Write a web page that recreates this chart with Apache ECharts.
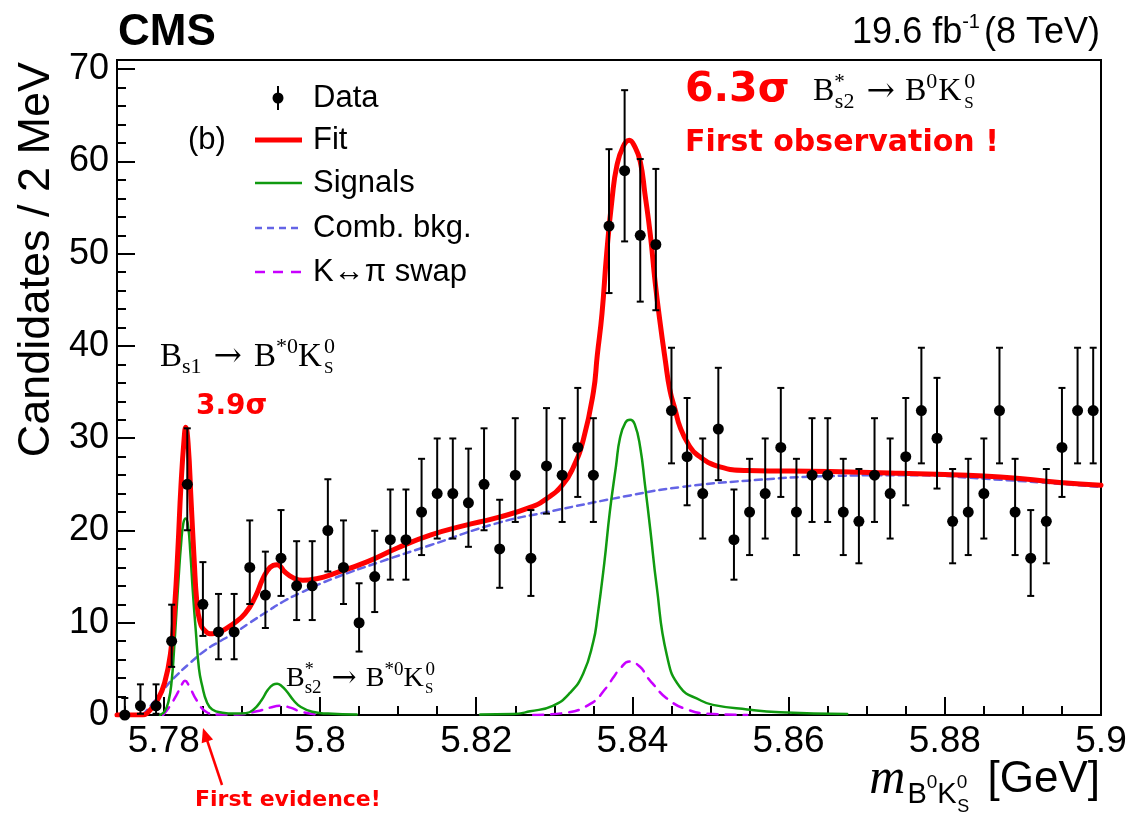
<!DOCTYPE html>
<html><head><meta charset="utf-8">
<script src="https://cdn.jsdelivr.net/npm/echarts@6/dist/echarts.min.js"></script>
<style>html,body{margin:0;padding:0;background:#fff}#c{width:1136px;height:828px}</style>
</head><body><div id="c"></div>
<script>
// ---------- data ----------
const binCenters = [5.775,5.777,5.779,5.781,5.783,5.785,5.787,5.789,5.791,5.793,5.795,5.797,5.799,5.801,5.803,5.805,5.807,5.809,5.811,5.813,5.815,5.817,5.819,5.821,5.823,5.825,5.827,5.829,5.831,5.833,5.835,5.837,5.839,5.841,5.843,5.845,5.847,5.849,5.851,5.853,5.855,5.857,5.859,5.861,5.863,5.865,5.867,5.869,5.871,5.873,5.875,5.877,5.879,5.881,5.883,5.885,5.887,5.889,5.891,5.893,5.895,5.897,5.899];
const counts = [0,1,1,8,25,12,9,9,16,13,17,14,14,20,16,10,15,19,19,22,24,24,23,25,18,26,17,27,26,29,26,53,59,52,51,33,28,24,31,19,22,24,29,22,26,26,22,21,26,24,28,33,30,21,22,24,33,22,17,21,29,33,33];

const fitCurve = [[5.7740,0],[5.7773,0],[5.7782,0.5],[5.7791,1.5],[5.7801,3.5],[5.7809,7],[5.7814,12],[5.7818,18],[5.7822,25],[5.7826,30],[5.7828,31.2],[5.7831,29.5],[5.7835,23],[5.7839,16.5],[5.7842,12.5],[5.7846,10.2],[5.7853,9.1],[5.7862,8.8],[5.7872,9],[5.7889,9.9],[5.7904,11],[5.7917,12.8],[5.7927,14.8],[5.7936,16],[5.7945,16.3],[5.7955,15.5],[5.7965,14.9],[5.7978,14.6],[5.7997,14.8],[5.8017,15.3],[5.8060,16.6],[5.8099,18.1],[5.8141,19.5],[5.8183,20.5],[5.8227,21.4],[5.8269,22.5],[5.8291,23.5],[5.8311,25],[5.8324,26.8],[5.8337,29.8],[5.8350,35],[5.8355,39],[5.8361,43.5],[5.8367,50],[5.8374,56],[5.8380,59.5],[5.8388,61.6],[5.8396,62.3],[5.8403,61.6],[5.8410,60],[5.8416,56.5],[5.8423,52],[5.8429,47],[5.8435,42.8],[5.8442,38.5],[5.8448,35.2],[5.8455,33],[5.8461,31.2],[5.8472,29.3],[5.8483,28.2],[5.8512,26.9],[5.8547,26.5],[5.8653,26.4],[5.8743,26.2],[5.8871,25.8],[5.8947,25.2],[5.9,24.9]];
const bkgCurve = [[5.7773,0],[5.7782,0.9],[5.7791,1.8],[5.7801,2.9],[5.7814,4.1],[5.7833,5.6],[5.7853,7.0],[5.7872,8.0],[5.7889,8.8],[5.7910,10.0],[5.7932,11.2],[5.7953,12.3],[5.7974,13.2],[5.8017,14.8],[5.8077,16.6],[5.8141,18.4],[5.8227,20.8],[5.8291,22],[5.8397,23.8],[5.8461,24.7],[5.8547,25.4],[5.8653,25.9],[5.8743,26],[5.8871,25.5],[5.9,24.7]];
const signalCurveA = [[5.7795,0],[5.7801,0.4],[5.7806,1.5],[5.7810,3.7],[5.7813,7],[5.7816,11],[5.7819,15],[5.7822,18.5],[5.7825,20.8],[5.7828,21.3],[5.7831,20.5],[5.7834,17.5],[5.7837,13.5],[5.7841,9],[5.7845,5],[5.7849,3.2],[5.7855,1.4],[5.7862,0.6],[5.7875,0.25],[5.7890,0.15],[5.7905,0.2],[5.7915,0.6],[5.7925,1.6],[5.7933,2.7],[5.7940,3.3],[5.7945,3.4],[5.7950,3.2],[5.7958,2.5],[5.7966,1.6],[5.7975,0.9],[5.7990,0.35],[5.8010,0.15],[5.8047,0.05]];
const signalCurveB = [[5.8205,0.05],[5.8247,0.1],[5.8269,0.4],[5.8298,1.0],[5.8320,2.4],[5.8337,4.5],[5.8350,8],[5.8355,10.5],[5.8364,16.5],[5.8371,22],[5.8379,27],[5.8384,30],[5.8391,31.7],[5.8397,32],[5.8403,31.5],[5.8410,29],[5.8416,25],[5.8423,20],[5.8431,14],[5.8444,6.5],[5.8461,3],[5.8487,1.6],[5.8503,1.1],[5.8547,0.6],[5.8589,0.3],[5.8675,0.1]];
const swapCurveA = [[5.7799,0],[5.7808,1],[5.7817,2.3],[5.7823,3.3],[5.7827,3.7],[5.7832,3.2],[5.7842,1.6],[5.7855,0.3],[5.7868,0.05],[5.7894,0.05],[5.7919,0.4],[5.7936,0.8],[5.7949,1],[5.7962,0.8],[5.7974,0.4],[5.7996,0.05]];
const swapCurveB = [[5.8273,0],[5.8311,0.2],[5.8346,1.2],[5.8367,3.0],[5.8375,4],[5.8384,5],[5.8396,5.8],[5.8410,5.2],[5.8419,4.1],[5.8426,3.4],[5.8444,1.8],[5.8470,0.6],[5.8503,0.1],[5.8547,0]];

const xMajorTicks = [5.78,5.80,5.82,5.84,5.86,5.88,5.90];
const xMinorTicks = [5.775,5.785,5.79,5.795,5.805,5.81,5.815,5.825,5.83,5.835,5.845,5.85,5.855,5.865,5.87,5.875,5.885,5.89,5.895];
const yMajorTicks = [0,10,20,30,40,50,60,70];
const yMinorTicks = [2,4,6,8,12,14,16,18,22,24,26,28,32,34,36,38,42,44,46,48,52,54,56,58,62,64,66,68];

// Poisson (Garwood, approx.) error bars derived from the counts
const dataPoints = binCenters.map((x, i) => {
  const n = counts[i];
  const lo = n === 0 ? 0 : n - Math.sqrt(n - 0.25);
  const hi = n === 0 ? 1.84 : n + 1 + Math.sqrt(n + 0.75);
  return [x, n, lo, hi];
});

// ---------- helpers ----------
const SANS = '"Liberation Sans"', SERIF = '"Liberation Serif"', BOLD = '"DejaVu Sans"', SYM = '"DejaVu Serif"';
const mctx = document.createElement('canvas').getContext('2d');
function tw(t, font) { mctx.font = font; return mctx.measureText(t).width; }
function formula(x0, yc, parts, color, align) {
  let cx = 0; const items = [];
  for (const p of parts) {
    const font = (p.it ? 'italic ' : '') + (p.b ? 'bold ' : '') + p.s + 'px ' + p.f;
    cx += (p.dx || 0);
    items.push({ x: cx, y: p.dy || 0, t: p.t, font });
    cx += tw(p.t, font);
  }
  const start = align === 'right' ? x0 - cx : x0;
  return items.map(it => ({
    type: 'text', x: start + it.x, y: yc + it.y, silent: true, z: 100,
    style: { text: it.t, font: it.font, fill: color || '#000', textAlign: 'left', align: 'left', textVerticalAlign: 'middle', verticalAlign: 'middle' }
  }));
}

const graphics = [];
// CMS + lumi
graphics.push(...formula(118, 33, [{ t: 'CMS', s: 44, f: SANS, b: true }], '#000'));
graphics.push(...formula(1100, 33, [{ t: '19.6 fb', s: 36, f: SANS }, { t: '-1', s: 20, f: SANS, dy: -11 }, { t: '(8 TeV)', s: 36, f: SANS, dx: 4 }], '#000', 'right'));
// axis titles
const yTitle = 'Candidates / 2 MeV', yTitleFont = '45px ' + SANS;
const yW = tw(yTitle, yTitleFont);
graphics.push({ type: 'text', x: 37, y: 62 + yW / 2, rotation: Math.PI / 2, silent: true,
  style: { text: yTitle, font: yTitleFont, fill: '#000', textAlign: 'center', align: 'center', textVerticalAlign: 'middle', verticalAlign: 'middle' } });
graphics.push(...formula(1100, 780, [
  { t: 'm', s: 50, f: SERIF, it: true },
  { t: 'B', s: 29, f: SANS, dy: 15, dx: 2 },
  { t: '0', s: 19, f: SANS, dy: 3 },
  { t: 'K', s: 29, f: SANS, dy: 15 },
  { t: '0', s: 19, f: SANS, dy: 3 },
  { t: 'S', s: 18, f: SANS, dy: 27, dx: -10 },
  { t: ' [GeV]', s: 44, f: SANS, dx: 6 }
], '#000', 'right'));
// legend
const legX1 = 255, legX2 = 302, legTx = 313;
const legRows = [98, 140, 183, 228, 272];
const legTexts = ['Data', 'Fit', 'Signals', 'Comb. bkg.', 'K\u2194\u03c0 swap'];
legTexts.forEach((t, i) => graphics.push(...formula(legTx, legRows[i], [{ t, s: 31, f: SANS }], '#000')));
graphics.push({ type: 'line', shape: { x1: 278, y1: legRows[0] - 12, x2: 278, y2: legRows[0] + 12 }, style: { stroke: '#000', lineWidth: 2 } });
graphics.push({ type: 'circle', shape: { cx: 278, cy: legRows[0], r: 5.5 }, style: { fill: '#000' } });
graphics.push({ type: 'line', shape: { x1: legX1, y1: legRows[1], x2: legX2, y2: legRows[1] }, style: { stroke: '#ff0000', lineWidth: 5 } });
graphics.push({ type: 'line', shape: { x1: legX1, y1: legRows[2], x2: legX2, y2: legRows[2] }, style: { stroke: '#109a10', lineWidth: 2.5 } });
graphics.push({ type: 'line', shape: { x1: legX1, y1: legRows[3], x2: legX2, y2: legRows[3] }, style: { stroke: '#6464e6', lineWidth: 2.5, lineDash: [7, 5] } });
graphics.push({ type: 'line', shape: { x1: legX1, y1: legRows[4], x2: legX2, y2: legRows[4] }, style: { stroke: '#c800ff', lineWidth: 2.5, lineDash: [10, 8] } });
graphics.push(...formula(188, 140, [{ t: '(b)', s: 31, f: SANS }], '#000'));
// annotations
graphics.push(...formula(685, 90, [{ t: '6.3\u03c3', s: 41, f: BOLD, b: true }], '#ff0000'));
graphics.push(...formula(813, 92, [
  { t: 'B', s: 32, f: SERIF }, { t: '*', s: 21, f: SERIF, dy: -10 }, { t: 's2', s: 22, f: SERIF, dy: 10, dx: -10 },
  { t: '\u2192', s: 34, f: SYM, dx: 12 }, { t: 'B', s: 32, f: SERIF, dx: 10 }, { t: '0', s: 22, f: SERIF, dy: -10 },
  { t: 'K', s: 32, f: SERIF, dx: 1 }, { t: '0', s: 22, f: SERIF, dy: -10, dx: 3 }, { t: 'S', s: 17, f: SERIF, dy: 12, dx: -11 }
], '#000'));
graphics.push(...formula(685, 143, [{ t: 'First observation !', s: 30, f: BOLD, b: true }], '#ff0000'));
graphics.push(...formula(160, 357, [
  { t: 'B', s: 33, f: SERIF }, { t: 's1', s: 22, f: SERIF, dy: 10 },
  { t: '\u2192', s: 34, f: SYM, dx: 12 }, { t: 'B', s: 33, f: SERIF, dx: 12 }, { t: '*0', s: 22, f: SERIF, dy: -10 },
  { t: 'K', s: 33, f: SERIF }, { t: '0', s: 22, f: SERIF, dy: -10, dx: 2 }, { t: 'S', s: 17, f: SERIF, dy: 12, dx: -11 }
], '#000'));
graphics.push(...formula(196, 407, [{ t: '3.9\u03c3', s: 28, f: BOLD, b: true }], '#ff0000'));
graphics.push(...formula(286, 679, [
  { t: 'B', s: 28, f: SERIF }, { t: '*', s: 18, f: SERIF, dy: -9 }, { t: 's2', s: 19, f: SERIF, dy: 9, dx: -9 },
  { t: '\u2192', s: 30, f: SYM, dx: 10 }, { t: 'B', s: 28, f: SERIF, dx: 9 }, { t: '*0', s: 19, f: SERIF, dy: -9 },
  { t: 'K', s: 28, f: SERIF }, { t: '0', s: 19, f: SERIF, dy: -9, dx: 2 }, { t: 'S', s: 15, f: SERIF, dy: 10, dx: -10 }
], '#000'));
graphics.push(...formula(195, 800, [{ t: 'First evidence!', s: 22, f: BOLD, b: true }], '#ff0000'));
// arrow
graphics.push({ type: 'line', shape: { x1: 222, y1: 785, x2: 207, y2: 740 }, style: { stroke: '#ff0000', lineWidth: 2.5 } });
graphics.push({ type: 'polygon', shape: { points: [[203, 728], [213.1, 739.4], [201.7, 743.2]] }, style: { fill: '#ff0000' } });

// ---------- chart ----------
const chart = echarts.init(document.getElementById('c'), null, { renderer: 'canvas' });
const labelStyle = { color: '#000', fontFamily: SANS, fontSize: 36 };
const curve = (name, data, color, width, dash, z) => ({
  type: 'line', name, data, showSymbol: false, symbol: 'none', smooth: 0.5,
  lineStyle: { color, width, type: dash || 'solid', cap: 'round', join: 'round' }, z, silent: true, animation: false
});
chart.setOption({
  animation: false,
  grid: { left: 117, right: 35, top: 60, bottom: 113, show: true, borderColor: '#000', borderWidth: 2, backgroundColor: 'transparent' },
  xAxis: [
    { type: 'value', min: 5.774, max: 5.9, position: 'bottom',
      axisLine: { lineStyle: { color: '#000', width: 2 } },
      axisTick: { inside: true, length: 18, lineStyle: { color: '#000', width: 2 }, customValues: xMajorTicks },
      axisLabel: { ...labelStyle, fontSize: 37, margin: 8, customValues: xMajorTicks, formatter: v => String(parseFloat(Number(v).toFixed(3))) },
      splitLine: { show: false } },
    { type: 'value', min: 5.774, max: 5.9, position: 'bottom',
      axisLine: { show: false },
      axisTick: { inside: true, length: 9, lineStyle: { color: '#000', width: 2 }, customValues: xMinorTicks },
      axisLabel: { show: false }, splitLine: { show: false } }
  ],
  yAxis: [
    { type: 'value', min: 0, max: 71, position: 'left',
      axisLine: { show: true, lineStyle: { color: '#000', width: 2 } },
      axisTick: { inside: true, length: 18, lineStyle: { color: '#000', width: 2 }, customValues: yMajorTicks },
      axisLabel: { ...labelStyle, margin: 8, customValues: yMajorTicks },
      splitLine: { show: false } },
    { type: 'value', min: 0, max: 71, position: 'left',
      axisLine: { show: false },
      axisTick: { inside: true, length: 9, lineStyle: { color: '#000', width: 2 }, customValues: yMinorTicks },
      axisLabel: { show: false }, splitLine: { show: false } }
  ],
  series: [
    curve('Comb. bkg.', bkgCurve, '#6464e6', 2.5, [7, 5], 2),
    curve('K\u2194\u03c0 swap', swapCurveA, '#c800ff', 2.5, [10, 8], 3),
    curve('K\u2194\u03c0 swap', swapCurveB, '#c800ff', 2.5, [10, 8], 3),
    curve('Signals', signalCurveA, '#109a10', 2.5, null, 4),
    curve('Signals', signalCurveB, '#109a10', 2.5, null, 4),
    curve('Fit', fitCurve, '#ff0000', 5, null, 5),
    { type: 'custom', name: 'Data', data: dataPoints, z: 10, clip: false, silent: true,
      encode: { x: 0, y: 1 },
      renderItem: (params, api) => {
        const x = api.value(0), y = api.value(1), lo = api.value(2), hi = api.value(3);
        const p = api.coord([x, y]), pl = api.coord([x, lo]), ph = api.coord([x, hi]);
        const cw = 3.5, st = { stroke: '#000', lineWidth: 2 };
        const ch = [
          { type: 'line', shape: { x1: p[0], y1: pl[1], x2: p[0], y2: ph[1] }, style: st },
          { type: 'line', shape: { x1: p[0] - cw, y1: ph[1], x2: p[0] + cw, y2: ph[1] }, style: st }
        ];
        if (y > 0) ch.push({ type: 'line', shape: { x1: p[0] - cw, y1: pl[1], x2: p[0] + cw, y2: pl[1] }, style: st });
        ch.push({ type: 'circle', shape: { cx: p[0], cy: p[1], r: 5.5 }, style: { fill: '#000' } });
        return { type: 'group', children: ch };
      } }
  ],
  graphic: { elements: graphics }
});
</script>
</body></html>
